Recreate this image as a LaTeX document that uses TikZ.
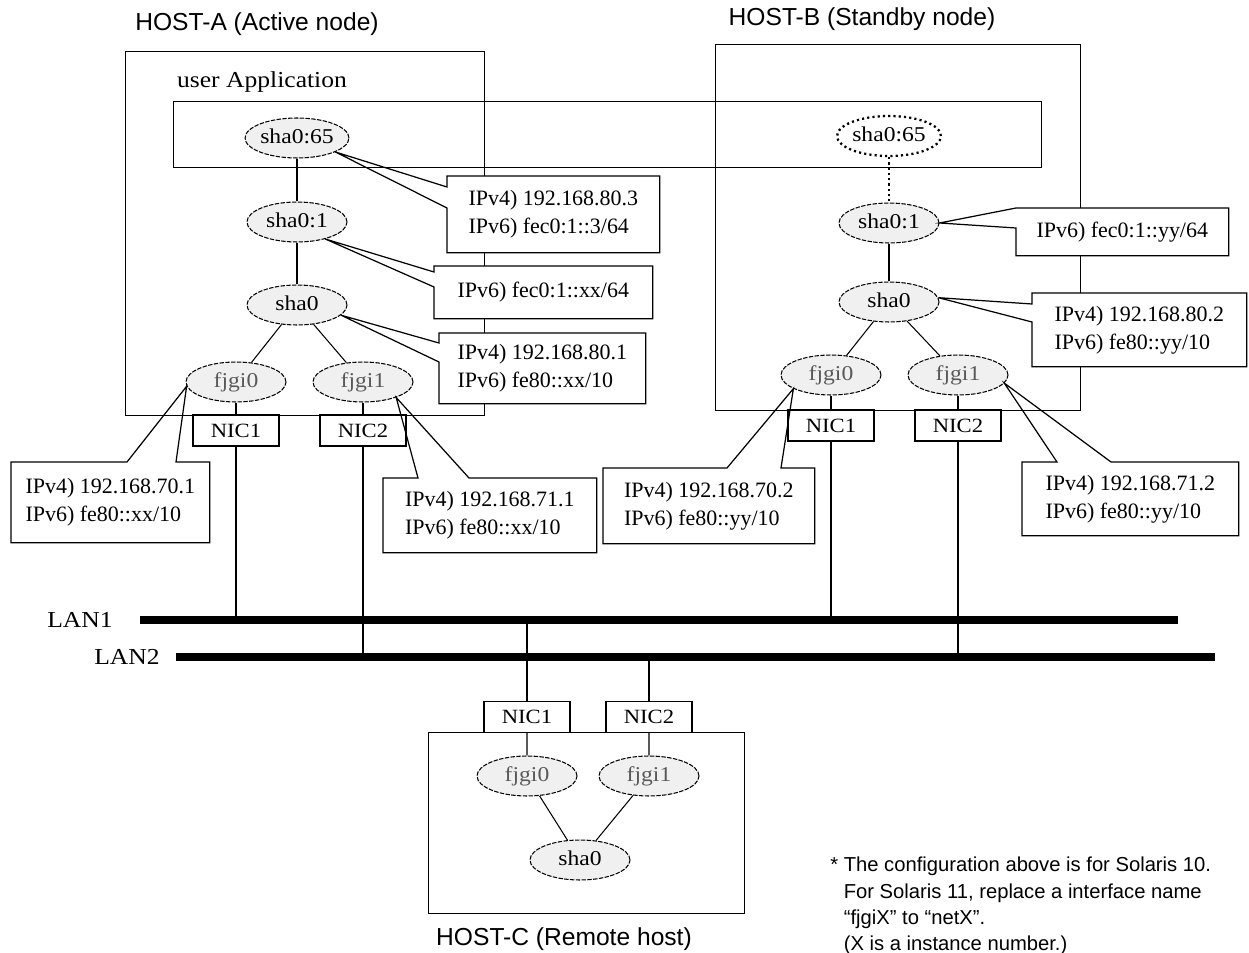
\documentclass[tikz,border=0pt]{standalone}
\usepackage{fontspec}
\setmainfont{Liberation Serif}
\setsansfont{Liberation Sans}
\newfontfamily\mincho[FakeStretch=1.12]{Liberation Serif}
\usetikzlibrary{calc, shapes.geometric}

\begin{document}
\begin{tikzpicture}[
    x=0.02cm, y=-0.02cm,
    hostbox/.style={draw, line width=0.8pt, anchor=north west, inner sep=0pt},
    ifnode/.style={draw, ellipse, fill=gray!12, line width=0.6pt,
                   dash pattern=on 2.5pt off 0.8pt,
                   minimum width=2cm, minimum height=0.8cm, inner sep=0pt,
                   font=\mincho\fontsize{12}{13}\selectfont,
                   text height=1.6ex, text depth=0.3ex},
    fjgi/.style={ifnode, text=black!65},
    standby/.style={ifnode, fill=none, line width=1.3pt,
                    dash pattern=on 1.2pt off 1.8pt},
    nicbox/.style={draw, fill=white, line width=0.8pt, inner sep=0pt,
                   minimum width=1.72cm, minimum height=0.62cm,
                   font=\mincho\fontsize{11.5}{13}\selectfont},
    callbox/.style={fill=white, anchor=north west, inner sep=0pt, align=left,
                    font=\fontsize{12.5}{16}\selectfont},
    callline/.style={line width=0.7pt},
    conn/.style={line width=0.6pt},
    dotconn/.style={line width=1.3pt, dash pattern=on 1.2pt off 1.8pt},
    lanbus/.style={line width=4pt},
    hostlabel/.style={font=\sffamily\fontsize{14}{16}\selectfont},
    lanlabel/.style={font=\mincho\fontsize{13}{15}\selectfont},
    notetext/.style={anchor=north west, inner sep=0pt, align=left,
                     font=\sffamily\fontsize{11.5}{14.8}\selectfont}
]
\useasboundingbox (0,0) rectangle (1249,953);

% Hosts
\node[hostbox, minimum width=7.18cm, minimum height=7.28cm] (hostA) at (125,51) {};
\node[hostbox, minimum width=7.30cm, minimum height=7.32cm] (hostB) at (715,44) {};
\node[hostbox, minimum width=6.32cm, minimum height=3.62cm] (hostC) at (428,732) {};
\node[hostbox, minimum width=17.36cm, minimum height=1.32cm] (userApp) at (173,101) {};

\node[hostlabel] (hostAlbl) at (257,24)  {HOST-A (Active node)};
\node[hostlabel] (hostBlbl) at (862,19)  {HOST-B (Standby node)};
\node[hostlabel] (hostClbl) at (564,939) {HOST-C (Remote host)};
\node[lanlabel]  (userApplbl) at (262,82) {user Application};

% HOST-A
\node[ifnode] (sha65a) at (297,138) {sha0:65};
\node[ifnode] (sha1a)  at (297,222) {sha0:1};
\node[ifnode] (sha0a)  at (297,305) {sha0};
\node[fjgi]   (fjgi0a) at (236,382) {fjgi0};
\node[fjgi]   (fjgi1a) at (363,382) {fjgi1};
\node[nicbox] (nic1a)  at (236,430.5) {NIC1};
\node[nicbox] (nic2a)  at (363,430.5) {NIC2};

% HOST-B
\node[standby] (sha65b) at (889,136) {sha0:65};
\node[ifnode]  (sha1b)  at (889,223) {sha0:1};
\node[ifnode]  (sha0b)  at (889,302) {sha0};
\node[fjgi]    (fjgi0b) at (831,375) {fjgi0};
\node[fjgi]    (fjgi1b) at (958,375) {fjgi1};
\node[nicbox]  (nic1b)  at (831,425.5) {NIC1};
\node[nicbox]  (nic2b)  at (958,425.5) {NIC2};

% HOST-C
\node[nicbox] (nic1c)  at (527,717) {NIC1};
\node[nicbox] (nic2c)  at (649,717) {NIC2};
\node[fjgi]   (fjgi0c) at (527,776) {fjgi0};
\node[fjgi]   (fjgi1c) at (649,776) {fjgi1};
\node[ifnode] (sha0c)  at (580,860) {sha0};

% LANs
\coordinate (lan1w) at (140,620);
\coordinate (lan1e) at (1178,620);
\coordinate (lan2w) at (176,657);
\coordinate (lan2e) at (1215,657);
\draw[lanbus] (lan1w) -- (lan1e);
\draw[lanbus] (lan2w) -- (lan2e);
\node[lanlabel] (lan1lbl) at (80,620)  {LAN1};
\node[lanlabel] (lan2lbl) at (127,657) {LAN2};

% Links
\draw[conn] (sha65a) -- (sha1a) -- (sha0a);
\draw[conn] (sha0a) -- (fjgi0a);
\draw[conn] (sha0a) -- (fjgi1a);
\draw[conn] (fjgi0a) -- (nic1a);
\draw[conn] (fjgi1a) -- (nic2a);
\draw[dotconn] (sha65b) -- (sha1b);
\draw[conn] (sha1b) -- (sha0b);
\draw[conn] (sha0b) -- (fjgi0b);
\draw[conn] (sha0b) -- (fjgi1b);
\draw[conn] (fjgi0b) -- (nic1b);
\draw[conn] (fjgi1b) -- (nic2b);
\draw[conn] (nic1c) -- (fjgi0c) -- (sha0c);
\draw[conn] (nic2c) -- (fjgi1c) -- (sha0c);
\draw[conn] (nic1a) -- (nic1a |- lan1w);
\draw[conn] (nic2a) -- (nic2a |- lan2w);
\draw[conn] (nic1b) -- (nic1b |- lan1w);
\draw[conn] (nic2b) -- (nic2b |- lan2w);
\draw[conn] (nic1c) -- (nic1c |- lan1w);
\draw[conn] (nic2c) -- (nic2c |- lan2w);

% Address callouts, pointer on the left side
\node[callbox, minimum width=4.24cm, minimum height=1.52cm] (co65a) at (447,176)
    {IPv4) 192.168.80.3\\IPv6) fec0:1::3/64};
\draw[callline] (sha65a.-20) -- ($(co65a.north west)+(0,11)$) |- (co65a.north east)
    |- (co65a.south west) -- ($(co65a.north west)+(0,32)$) -- cycle;

\node[callbox, minimum width=4.36cm, minimum height=1.04cm] (co1a) at (434,266)
    {IPv6) fec0:1::xx/64};
\draw[callline] (sha1a.-31) -- ($(co1a.north west)+(0,6)$) |- (co1a.north east)
    |- (co1a.south west) -- ($(co1a.north west)+(0,21)$) -- cycle;

\node[callbox, minimum width=4.12cm, minimum height=1.40cm] (co0a) at (439,333)
    {IPv4) 192.168.80.1\\IPv6) fe80::xx/10};
\draw[callline] (sha0a.-13) -- ($(co0a.north west)+(0,10)$) |- (co0a.north east)
    |- (co0a.south west) -- ($(co0a.north west)+(0,29)$) -- cycle;

\node[callbox, minimum width=4.24cm, minimum height=0.94cm] (co1b) at (1016,208)
    {IPv6) fec0:1::yy/64};
\draw[callline] (sha1b.east) -- (co1b.north west) |- (co1b.north east)
    |- (co1b.south west) -- ($(co1b.north west)+(0,20)$) -- cycle;

\node[callbox, minimum width=4.28cm, minimum height=1.46cm] (co0b) at (1032,293)
    {IPv4) 192.168.80.2\\IPv6) fe80::yy/10};
\draw[callline] (sha0b.5) -- ($(co0b.north west)+(0,11)$) |- (co0b.north east)
    |- (co0b.south west) -- ($(co0b.north west)+(0,29)$) -- cycle;

% Address callouts, pointer on the top side
\node[callbox, minimum width=3.96cm, minimum height=1.60cm] (cof0a) at (11,462)
    {IPv4) 192.168.70.1\\IPv6) fe80::xx/10};
\draw[callline] (fjgi0a.185) -- ($(cof0a.north west)+(116,0)$) -| (cof0a.south west)
    -| (cof0a.north east) -- ($(cof0a.north west)+(165,0)$) -- cycle;

\node[callbox, minimum width=4.26cm, minimum height=1.48cm] (cof1a) at (383,478)
    {IPv4) 192.168.71.1\\IPv6) fe80::xx/10};
\draw[callline] (fjgi1a.-25) -- ($(cof1a.north west)+(35,0)$) -| (cof1a.south west)
    -| (cof1a.north east) -- ($(cof1a.north west)+(86,0)$) -- cycle;

\node[callbox, minimum width=4.22cm, minimum height=1.50cm] (cof0b) at (603,468)
    {IPv4) 192.168.70.2\\IPv6) fe80::yy/10};
\draw[callline] (fjgi0b.200) -- ($(cof0b.north west)+(124,0)$) -| (cof0b.south west)
    -| (cof0b.north east) -- ($(cof0b.north west)+(178,0)$) -- cycle;

\node[callbox, minimum width=4.32cm, minimum height=1.46cm] (cof1b) at (1022,462)
    {IPv4) 192.168.71.2\\IPv6) fe80::yy/10};
\draw[callline] (fjgi1b.-10) -- ($(cof1b.north west)+(35,0)$) -| (cof1b.south west)
    -| (cof1b.north east) -- ($(cof1b.north west)+(89,0)$) -- cycle;

% Note
\node[notetext] (note) at (830,857)
    {* The configuration above is for Solaris 10.\\
     \hphantom{*\ }For Solaris 11, replace a interface name\\
     \hphantom{*\ }“fjgiX” to “netX”.\\
     \hphantom{*\ }(X is a instance number.)};

\end{tikzpicture}
\end{document}
